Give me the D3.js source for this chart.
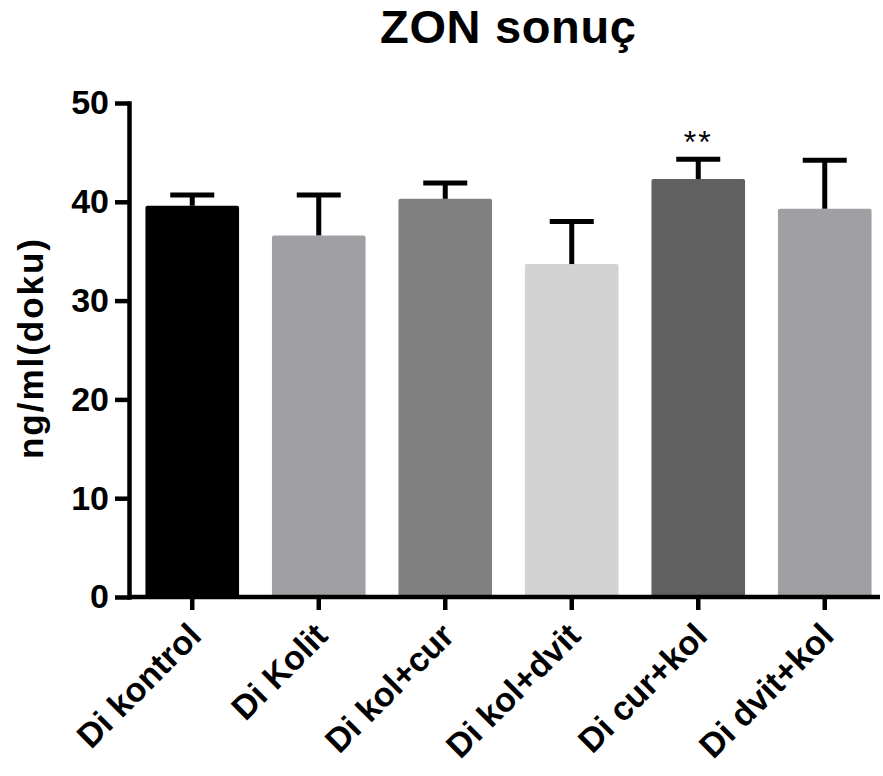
<!DOCTYPE html>
<html lang="tr">
    <head>
        <meta charset="utf-8">
        <title>ZON sonuç</title>
        <script type="text/javascript" src="https://cdn.jsdelivr.net/npm/d3@7"></script>
        <style>
            body { margin: 0; background: #fff; }
            svg text { font-family: Arial, "Liberation Sans", sans-serif; font-weight: bold; fill: #000; }
        </style>
    </head>
    <body>
        <script type="text/javascript">
            // data
            var groups = ["Di kontrol", "Di Kolit", "Di kol+cur", "Di kol+dvit", "Di cur+kol", "Di dvit+kol"];
            var means  = [39.6, 36.6, 40.3, 33.7, 42.3, 39.3];
            var errors = [1.1, 4.1, 1.6, 4.3, 2.0, 4.9];
            var marks  = ["", "", "", "", "**", ""];
            var yTicks = [0, 10, 20, 30, 40, 50];
            var colors = ["#000000", "#a0a0a4", "#808080", "#d3d3d3", "#606060", "#a0a0a4"];

            var w = 883;
            var h = 776;

            var svg = d3.select("body")
                        .append("svg")
                        .attr("width", w)
                        .attr("height", h);

            // scales
            var xScale = d3.scaleBand()
                            .domain(groups)
                            .range([129, 888])
                            .paddingInner(0.26)
                            .paddingOuter(0.13);

            var yScale = d3.scaleLinear()
                            .domain([0, 50])
                            .range([597, 103]);

            // title
            svg.append("text")
                .attr("x", 508)
                .attr("y", 43)
                .attr("text-anchor", "middle")
                .attr("font-size", "47px")
                .attr("textLength", 256)
                .text("ZON sonuç");

            // y label
            svg.append("text")
                .attr("transform", "translate(43," + 349 + ") rotate(-90)")
                .attr("text-anchor", "middle")
                .attr("font-size", "35px")
                .attr("textLength", 220)
                .text("ng/ml(doku)");

            // bars
            svg.selectAll("rect.bar")
                .data(means)
                .enter()
                .append("rect")
                .attr("class", "bar")
                .attr("x", function(d, i){ return xScale(groups[i]); })
                .attr("y", function(d){ return yScale(d); })
                .attr("width", xScale.bandwidth())
                .attr("height", function(d){ return yScale(0) - yScale(d); })
                .attr("rx", 2)
                .attr("fill", function(d, i){ return colors[i]; });

            // error bars (upper only)
            var err = svg.selectAll("g.err")
                .data(means)
                .enter()
                .append("g")
                .attr("class", "err")
                .attr("stroke", "#000")
                .attr("stroke-width", 5);

            err.append("line")
                .attr("x1", function(d, i){ return xScale(groups[i]) + xScale.bandwidth() / 2; })
                .attr("x2", function(d, i){ return xScale(groups[i]) + xScale.bandwidth() / 2; })
                .attr("y1", function(d){ return yScale(d); })
                .attr("y2", function(d, i){ return yScale(d + errors[i]); });

            err.append("line")
                .attr("x1", function(d, i){ return xScale(groups[i]) + xScale.bandwidth() / 2 - 22; })
                .attr("x2", function(d, i){ return xScale(groups[i]) + xScale.bandwidth() / 2 + 22; })
                .attr("y1", function(d, i){ return yScale(d + errors[i]); })
                .attr("y2", function(d, i){ return yScale(d + errors[i]); });

            // significance stars
            svg.selectAll("text.sig")
                .data(marks)
                .enter()
                .append("text")
                .attr("class", "sig")
                .attr("x", function(d, i){ return xScale(groups[i]) + xScale.bandwidth() / 2; })
                .attr("y", function(d, i){ return yScale(means[i] + errors[i]) - 6; })
                .attr("text-anchor", "middle")
                .attr("font-size", "32px")
                .attr("letter-spacing", "2px")
                .style("font-weight", "normal")
                .text(function(d){ return d; });

            // y axis
            var yAxis = d3.axisLeft(yScale)
                            .tickValues(yTicks)
                            .tickSize(14)
                            .tickSizeOuter(0)
                            .tickPadding(6);

            var gy = svg.append("g")
                .attr("transform", "translate(129,0)")
                .call(yAxis);
            gy.select(".domain").attr("stroke-width", 4.5).attr("stroke-linecap", "square");
            gy.selectAll(".tick line").attr("stroke-width", 4.5);
            gy.selectAll(".tick text")
                .attr("font-size", "34px")
                .attr("font-family", null);

            // x axis
            var xAxis = d3.axisBottom(xScale)
                            .tickSize(13)
                            .tickSizeOuter(0)
                            .tickFormat("");

            var gx = svg.append("g")
                .attr("transform", "translate(0,597)")
                .call(xAxis);
            gx.select(".domain")
                .attr("d", "M129,0H880")
                .attr("stroke-width", 4.5);
            gx.selectAll(".tick line").attr("stroke-width", 4.5);

            // rotated category labels
            svg.selectAll("text.xlab")
                .data(groups)
                .enter()
                .append("text")
                .attr("class", "xlab")
                .attr("text-anchor", "end")
                .attr("font-size", "34px")
                .attr("transform", function(d){
                    var cx = xScale(d) + xScale.bandwidth() / 2;
                    return "translate(" + (cx - 6) + ",621) rotate(-45)";
                })
                .attr("dy", "0.7em")
                .text(function(d){ return d; });
        </script>
    </body>
</html>
